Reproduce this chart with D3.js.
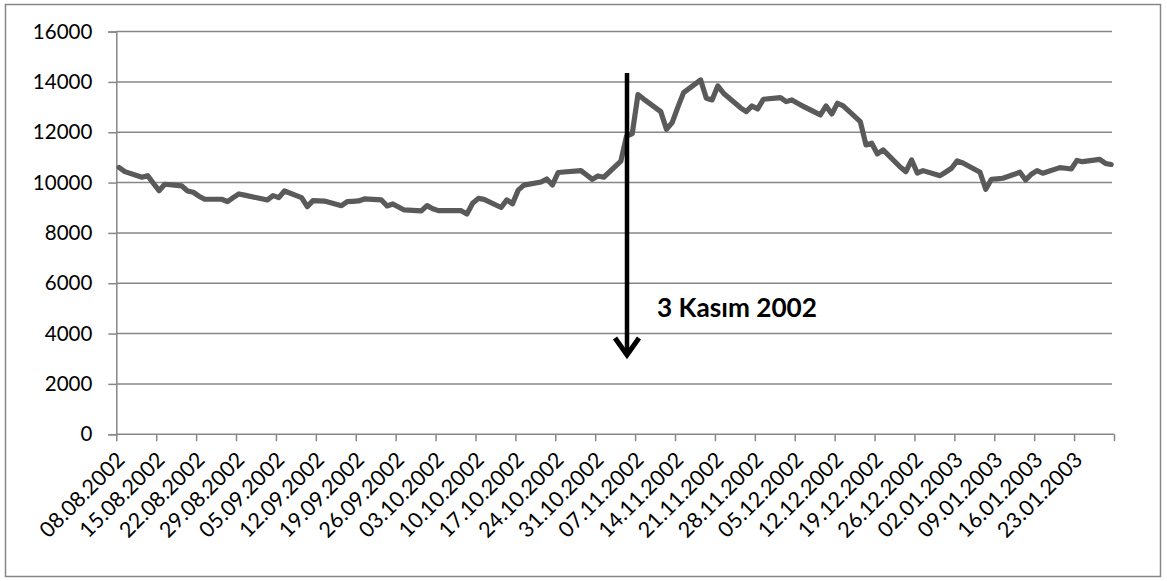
<!DOCTYPE html>
<html>
<head>
<meta charset="utf-8">
<script src="https://cdn.jsdelivr.net/npm/d3@7"></script>
<style>
  html, body { margin: 0; padding: 0; background: #fff; }
  svg { display: block; }
</style>
</head>
<body>
<svg id="chart" width="1167" height="581"></svg>
<script>
// Trading days, one value per day
const dates = [
  "08.08.2002","09.08.2002","12.08.2002","13.08.2002","14.08.2002",
  "15.08.2002","16.08.2002","19.08.2002","20.08.2002","21.08.2002",
  "22.08.2002","23.08.2002","26.08.2002","27.08.2002","28.08.2002",
  "29.08.2002","30.08.2002","02.09.2002","03.09.2002","04.09.2002",
  "05.09.2002","06.09.2002","09.09.2002","10.09.2002","11.09.2002",
  "12.09.2002","13.09.2002","16.09.2002","17.09.2002","18.09.2002",
  "19.09.2002","20.09.2002","23.09.2002","24.09.2002","25.09.2002",
  "26.09.2002","27.09.2002","30.09.2002","01.10.2002","02.10.2002",
  "03.10.2002","04.10.2002","07.10.2002","08.10.2002","09.10.2002",
  "10.10.2002","11.10.2002","14.10.2002","15.10.2002","16.10.2002",
  "17.10.2002","18.10.2002","21.10.2002","22.10.2002","23.10.2002",
  "24.10.2002","25.10.2002","28.10.2002","29.10.2002","30.10.2002",
  "31.10.2002","01.11.2002","04.11.2002","05.11.2002","06.11.2002",
  "07.11.2002","08.11.2002","11.11.2002","12.11.2002","13.11.2002",
  "14.11.2002","15.11.2002","18.11.2002","19.11.2002","20.11.2002",
  "21.11.2002","22.11.2002","25.11.2002","26.11.2002","27.11.2002",
  "28.11.2002","29.11.2002","02.12.2002","03.12.2002","04.12.2002",
  "05.12.2002","06.12.2002","09.12.2002","10.12.2002","11.12.2002",
  "12.12.2002","13.12.2002","16.12.2002","17.12.2002","18.12.2002",
  "19.12.2002","20.12.2002","23.12.2002","24.12.2002","25.12.2002",
  "26.12.2002","27.12.2002","30.12.2002","31.12.2002","01.01.2003",
  "02.01.2003","03.01.2003","06.01.2003","07.01.2003","08.01.2003",
  "09.01.2003","10.01.2003","13.01.2003","14.01.2003","15.01.2003",
  "16.01.2003","17.01.2003","20.01.2003","21.01.2003","22.01.2003",
  "23.01.2003","24.01.2003","27.01.2003","28.01.2003","29.01.2003"
];

const values = [
  10600, 10435, 10212, 10276, 9973,
  9679, 9934, 9866, 9667, 9616,
  9460, 9337, 9337, 9242, 9400,
  9548, 9500, 9357, 9310, 9480,
  9401, 9667, 9401, 9043, 9282,
  9275, 9265, 9083, 9242, 9255,
  9270, 9350, 9310, 9071, 9151,
  9030, 8912, 8872, 9083, 8960,
  8884, 8890, 8884, 8753, 9180,
  9370, 9330, 9010, 9310, 9160,
  9700, 9900, 10025, 10144, 9906,
  10400, 10420, 10475, 10300, 10130,
  10263, 10212, 10850, 11850, 11950,
  13500, 13320, 12820, 12120, 12382,
  13000, 13575, 14080, 13352, 13284,
  13841, 13551, 12970, 12820, 13046,
  12927, 13312, 13376, 13217, 13284,
  13150, 13030, 12688, 13046, 12728,
  13153, 13046, 12422, 11496, 11563,
  11138, 11297, 10620, 10435, 10900,
  10380, 10475, 10276, 10420, 10570,
  10860, 10780, 10411, 9735, 10132,
  10150, 10172, 10411, 10105, 10330,
  10475, 10371, 10594, 10570, 10540,
  10880, 10830, 10920, 10760, 10720
];

// Weekly date labels on the horizontal axis
const xTickLabels = [
  "08.08.2002","15.08.2002","22.08.2002","29.08.2002","05.09.2002",
  "12.09.2002","19.09.2002","26.09.2002","03.10.2002","10.10.2002",
  "17.10.2002","24.10.2002","31.10.2002","07.11.2002","14.11.2002",
  "21.11.2002","28.11.2002","05.12.2002","12.12.2002","19.12.2002",
  "26.12.2002","02.01.2003","09.01.2003","16.01.2003","23.01.2003"
];
const xAxisEnd = "30.01.2003";

const yTicks = [0, 2000, 4000, 6000, 8000, 10000, 12000, 14000, 16000];

const annotationText = "3 Kasım 2002";

// ---------------------------------------------------------------
const parse = d3.utcParse("%d.%m.%Y");
const DAY = 24 * 3600 * 1000;
const mid = d => new Date(parse(d).getTime() + DAY / 2); // centre of the day slot

const svg = d3.select("#chart");
const FONT = "Lato, 'Open Sans', sans-serif";
const GRID = "#878787";

const plot = { left: 116.3, right: 1114, top: 31.6, bottom: 434.2 };

const x = d3.scaleUtc()
  .domain([parse(xTickLabels[0]), parse(xAxisEnd)])
  .range([plot.left, plot.right]);

const y = d3.scaleLinear()
  .domain([0, 16000])
  .range([plot.bottom, plot.top]);

// outer chart frame
svg.append("rect")
  .attr("x", 5.5).attr("y", 4.5)
  .attr("width", 1155).attr("height", 572)
  .attr("fill", "#fff")
  .attr("stroke", GRID).attr("stroke-width", 1.5);

// horizontal gridlines
svg.append("g")
  .selectAll("line")
  .data(yTicks.filter(v => v > 0))
  .join("line")
  .attr("x1", plot.left).attr("x2", plot.right - 2)
  .attr("y1", d => y(d)).attr("y2", d => y(d))
  .attr("stroke", GRID).attr("stroke-width", 1.5);

// y axis
const yAxis = svg.append("g")
  .attr("transform", `translate(${plot.left},0)`)
  .call(d3.axisLeft(y).tickValues(yTicks).tickSize(8).tickPadding(16)
    .tickFormat(d3.format("d")));
yAxis.select(".domain").attr("stroke", GRID).attr("stroke-width", 1.5);
yAxis.selectAll(".tick line").attr("stroke", GRID).attr("stroke-width", 1.5);
yAxis.selectAll(".tick text")
  .attr("font-family", FONT).attr("font-size", 20.5).attr("fill", "#000");

// x axis with weekly ticks
const tickDates = xTickLabels.map(parse).concat([parse(xAxisEnd)]);
const xAxis = svg.append("g")
  .attr("transform", `translate(0,${plot.bottom})`)
  .call(d3.axisBottom(x).tickValues(tickDates).tickSize(7).tickFormat(""));
xAxis.select(".domain").attr("stroke", GRID).attr("stroke-width", 1.5)
  .attr("d", `M${plot.left},0H${plot.right}`);
xAxis.selectAll(".tick line").attr("stroke", GRID).attr("stroke-width", 1.5);

// rotated date labels
svg.append("g")
  .selectAll("text")
  .data(xTickLabels)
  .join("text")
  .attr("transform", d => `translate(${x(mid(d)) + 7},${plot.bottom + 27}) rotate(-45)`)
  .attr("text-anchor", "end")
  .attr("font-family", FONT).attr("font-size", 21.5).attr("fill", "#000")
  .text(d => d);

// series line
const series = dates.map((d, i) => ({ date: mid(d), value: values[i] }));
svg.append("path")
  .datum(series)
  .attr("fill", "none")
  .attr("stroke", "#5a5a5a")
  .attr("stroke-width", 5.2)
  .attr("stroke-linejoin", "round")
  .attr("stroke-linecap", "round")
  .attr("d", d3.line().x(d => x(d.date)).y(d => y(d.value)));

// annotation arrow
const ax = 627;
const aTop = y(14350), aTip = y(3150);
const ann = svg.append("g").attr("stroke", "#000").attr("fill", "none");
ann.append("line")
  .attr("x1", ax).attr("x2", ax)
  .attr("y1", aTop).attr("y2", aTip - 2)
  .attr("stroke-width", 4.5);
ann.append("path")
  .attr("d", `M${ax - 12},${aTip - 17}L${ax},${aTip}L${ax + 12},${aTip - 17}`)
  .attr("stroke-width", 5)
  .attr("stroke-linejoin", "miter");

svg.append("text")
  .attr("x", 657).attr("y", 317)
  .attr("font-family", FONT).attr("font-weight", "bold")
  .attr("font-size", 26.2).attr("fill", "#000")
  .text(annotationText);
</script>
</body>
</html>
